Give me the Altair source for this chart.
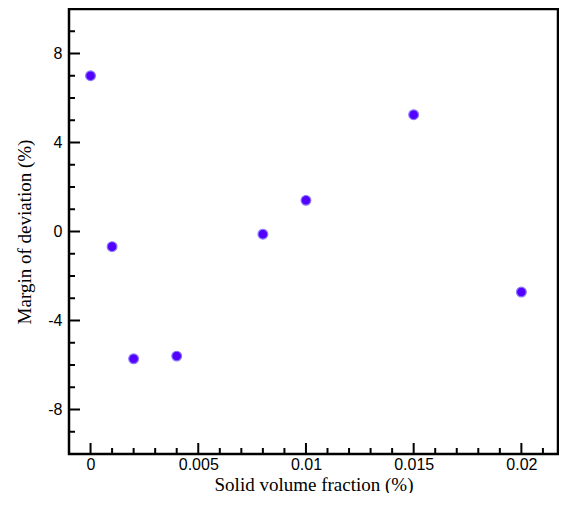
import altair as alt
import pandas as pd

fraction = [0.0, 0.001, 0.002, 0.004, 0.008, 0.01, 0.015, 0.02]
deviation = [7.0, -0.68, -5.72, -5.6, -0.12, 1.4, 5.25, -2.72]

y_major = [-8, -4, 0, 4, 8]
y_minor = [v for v in range(-9, 10) if v % 4 != 0]
x_major = [0.0, 0.005, 0.01, 0.015, 0.02]
x_minor = [0.001, 0.002, 0.003, 0.004, 0.006, 0.007, 0.008, 0.009, 0.011, 0.012,
           0.013, 0.014, 0.016, 0.017, 0.018, 0.019, 0.021]

W, H = 489, 445

df = pd.DataFrame({"x": fraction, "y": deviation})

xs = alt.Scale(domain=[-0.001, 0.0217], nice=False, zero=False)
ys = alt.Scale(domain=[-10, 10], nice=False, zero=False)

x_axis = alt.Axis(values=x_major, ticks=False, domain=False, grid=False,
                  labelFont="Liberation Sans", labelFontSize=16, labelColor="black",
                  labelPadding=2, labelExpr="'' + datum.value",
                  title="Solid volume fraction (%)", titleFont="Liberation Serif",
                  titleFontSize=19, titleFontWeight="normal", titleColor="black",
                  titleY=36, titleBaseline="alphabetic")
y_axis = alt.Axis(values=y_major, ticks=False, domain=False, grid=False,
                  labelFont="Liberation Sans", labelFontSize=16, labelColor="black",
                  labelPadding=7,
                  labelExpr="datum.value < 0 ? '-' + abs(datum.value) : '' + datum.value",
                  title="Margin of deviation (%)", titleFont="Liberation Serif",
                  titleFontSize=19, titleFontWeight="normal", titleColor="black",
                  titleX=-45, titleAngle=270, titleBaseline="middle", titleAlign="center")

points = alt.Chart(df).mark_circle(size=95, color="#5300ff", opacity=1,
                                   stroke="#8877ff", strokeWidth=1.2).encode(
    x=alt.X("x:Q", scale=xs, axis=x_axis),
    y=alt.Y("y:Q", scale=ys, axis=y_axis),
)

def yticks(vals, length):
    d = pd.DataFrame({"v": vals})
    return alt.Chart(d).mark_rule(color="black", strokeWidth=2).encode(
        y=alt.Y("v:Q", scale=ys, axis=y_axis), x=alt.value(0), x2=alt.value(length))

def xticks(vals, length):
    d = pd.DataFrame({"v": vals})
    return alt.Chart(d).mark_rule(color="black", strokeWidth=2).encode(
        x=alt.X("v:Q", scale=xs, axis=x_axis), y=alt.value(H), y2=alt.value(H - length))

chart = alt.layer(
    points,
    yticks(y_major, 11), yticks(y_minor, 6),
    xticks(x_major, 11), xticks(x_minor, 6),
).properties(
    width=W, height=H,
    background="white",
    autosize=alt.AutoSizeParams(type="none"),
    padding={"left": 61, "top": 1, "right": 1, "bottom": 39},
).configure_view(stroke="black", strokeWidth=2.5)

chart.save("out.html", embed_options={"renderer": "svg", "actions": False})
